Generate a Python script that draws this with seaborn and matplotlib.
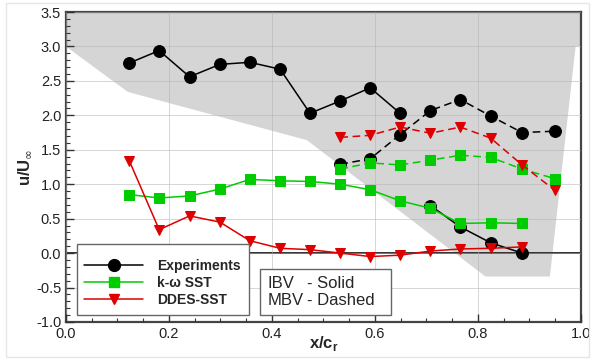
import numpy as np
import pandas as pd
import matplotlib
matplotlib.use("Agg")
import matplotlib.pyplot as plt
import seaborn as sns
from matplotlib.lines import Line2D
from matplotlib.patches import Polygon, Rectangle
from matplotlib.ticker import MultipleLocator, FormatStrFormatter

# x/c_r stations
x_ibv = [0.123, 0.181, 0.240, 0.299, 0.357, 0.416, 0.474, 0.533, 0.591, 0.649, 0.708, 0.766, 0.825, 0.886]
x_mbv = [0.533, 0.591, 0.649, 0.708, 0.766, 0.825, 0.886, 0.950]

# IBV (solid) - experiments have a break between 0.649 and 0.708
exp_ibv = [2.76, 2.94, 2.56, 2.74, 2.77, 2.67, 2.03, 2.21, 2.40, 2.03, 0.69, 0.38, 0.15, 0.0]
exp_break = 10
sst_ibv = [0.85, 0.80, 0.83, 0.93, 1.07, 1.05, 1.04, 1.00, 0.92, 0.76, 0.65, 0.43, 0.44, 0.43]
ddes_ibv = [1.34, 0.34, 0.54, 0.45, 0.18, 0.07, 0.05, 0.0, -0.05, -0.03, 0.03, 0.06, 0.07, 0.09]

# MBV (dashed)
exp_mbv = [1.29, 1.37, 1.72, 2.07, 2.23, 1.99, 1.75, 1.77]
sst_mbv = [1.22, 1.31, 1.28, 1.35, 1.42, 1.39, 1.22, 1.08]
ddes_mbv = [1.68, 1.71, 1.83, 1.74, 1.83, 1.67, 1.28, 0.91]

# shaded region outline
region_x = [0.0, 1.0, 1.0, 0.99, 0.94, 0.815, 0.468, 0.12, 0.0]
region_y = [3.5, 3.5, 3.0, 3.0, -0.34, -0.34, 1.64, 2.34, 3.0]

labels = ["Experiments", "k-\u03c9 SST", "DDES-SST"]
colors = ["black", "#00cc00", "#dd0000"]
markers = ["o", "s", "v"]
msizes = [8.5, 6.5, 7.5]

sns.set_style("white")
plt.rcParams["font.family"] = ["Liberation Sans", "DejaVu Sans"]

fig = plt.figure(figsize=(5.92, 3.6), dpi=100)
ax = fig.add_axes([0.1115, 0.1056, 0.8695, 0.861])

ax.add_patch(Polygon(np.column_stack([region_x, region_y]), closed=True,
                     facecolor="#d5d5d5", edgecolor="none", zorder=0))


def draw(xs, ys, i, ls):
    sns.lineplot(x=xs, y=ys, ax=ax, sort=False, color=colors[i],
                 marker=markers[i], markersize=msizes[i], markeredgecolor=colors[i],
                 linewidth=1.1, linestyle=ls, zorder=3 + i)


# solid (IBV)
draw(x_ibv[:exp_break], exp_ibv[:exp_break], 0, "-")
draw(x_ibv[exp_break:], exp_ibv[exp_break:], 0, "-")
draw(x_ibv, sst_ibv, 1, "-")
draw(x_ibv, ddes_ibv, 2, "-")
# dashed (MBV)
draw(x_mbv, exp_mbv, 0, (0, (5, 3)))
draw(x_mbv, sst_mbv, 1, (0, (5, 3)))
draw(x_mbv, ddes_mbv, 2, (0, (5, 3)))

ax.axhline(0, color="#333333", lw=1.4, zorder=2)

ax.set_xlim(0, 1)
ax.set_ylim(-1, 3.5)
ax.xaxis.set_major_locator(MultipleLocator(0.2))
ax.xaxis.set_minor_locator(MultipleLocator(0.05))
ax.yaxis.set_major_locator(MultipleLocator(0.5))
ax.yaxis.set_minor_locator(MultipleLocator(0.1))
ax.xaxis.set_major_formatter(FormatStrFormatter("%.1f"))
ax.yaxis.set_major_formatter(FormatStrFormatter("%.1f"))
ax.tick_params(which="both", direction="in", left=True, bottom=True, labelsize=10.5, colors="#333333")
ax.tick_params(which="major", length=6, width=1)
ax.tick_params(which="minor", length=3, width=0.8)
ax.tick_params(labelcolor="#222222")
ax.grid(True, which="major", color="#b0b0b0", lw=0.6, alpha=0.6, zorder=1)
ax.set_axisbelow(False)
for s in ax.spines.values():
    s.set_color("#444444")
    s.set_linewidth(1.6)

ax.set_xlabel("x/c$_\\mathregular{r}$", fontsize=12, fontweight="bold", labelpad=-5)
ax.set_ylabel("u/U$_\\infty$", fontsize=12, fontweight="bold", labelpad=2)

handles = [Line2D([], [], color=colors[i], marker=markers[i], markersize=msizes[i],
                  lw=1.1) for i in range(3)]
leg = ax.legend(handles, labels, loc="lower left", bbox_to_anchor=(0.021, 0.023),
                borderaxespad=0, handlelength=4.2, fancybox=False, framealpha=1,
                edgecolor="#666666", prop={"weight": "bold", "size": 10},
                labelspacing=0.22, handletextpad=1.05, borderpad=0.55,
                title=" ", title_fontsize=3)
leg.get_frame().set_linewidth(1.0)
leg.set_zorder(10)

# line-style key box
ax.add_patch(Rectangle((0.377, 0.0226), 0.254, 0.148, transform=ax.transAxes,
                       facecolor="white", edgecolor="#666666", lw=1.0, zorder=10))
for txt, key, yy in [("IBV", "- Solid", 0.123), ("MBV", "- Dashed", 0.069)]:
    ax.text(0.392, yy, txt, transform=ax.transAxes, fontsize=12, ha="left",
            va="center", zorder=11)
    ax.text(0.468, yy, key, transform=ax.transAxes, fontsize=12, ha="left",
            va="center", zorder=11)

fig.patches.append(plt.Rectangle((0.01, 0.008), 0.985, 0.985, transform=fig.transFigure,
                                 fill=False, edgecolor="#e6e6e6", lw=1.0))

fig.savefig("out.png", dpi=100)
